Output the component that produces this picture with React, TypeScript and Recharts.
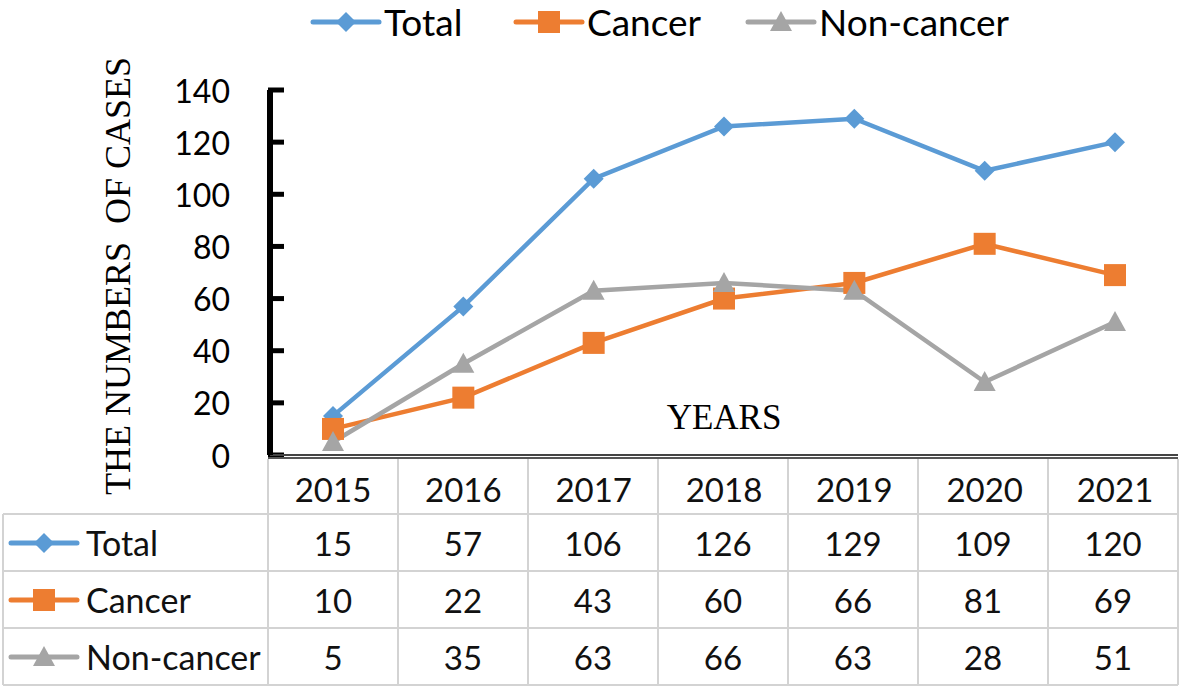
import React from "react";
import { LineChart, Line, XAxis, YAxis, Label, ReferenceLine } from "recharts";

const years = ["2015", "2016", "2017", "2018", "2019", "2020", "2021"];
const totalCases = [15, 57, 106, 126, 129, 109, 120];
const cancerCases = [10, 22, 43, 60, 66, 81, 69];
const nonCancerCases = [5, 35, 63, 66, 63, 28, 51];
const yTicks = [0, 20, 40, 60, 80, 100, 120, 140];

type Shape = "diamond" | "square" | "triangle";

const series: { key: string; name: string; color: string; shape: Shape; values: number[] }[] = [
  { key: "total", name: "Total", color: "#5B9BD5", shape: "diamond", values: totalCases },
  { key: "cancer", name: "Cancer", color: "#ED7D31", shape: "square", values: cancerCases },
  { key: "nonCancer", name: "Non-cancer", color: "#A5A5A5", shape: "triangle", values: nonCancerCases },
];

const data = years.map((year, i) => ({
  year,
  total: totalCases[i],
  cancer: cancerCases[i],
  nonCancer: nonCancerCases[i],
}));

const FONT = "Lato, 'Open Sans', sans-serif";
const SERIF = "'Liberation Serif', 'DejaVu Serif', serif";

// table geometry (matches the plot's category bands)
const COL0 = 268;
const COLW = 130;
const TABLE_TOP = 458;
const HEAD_H = 56;
const ROW_H = 57;
const GRID = "#d3d3d3";

// top legend item positions
const legendLefts = [310, 513, 745];

function Marker({ shape, cx, cy, color }: { shape: Shape; cx: number; cy: number; color: string }) {
  if (shape === "diamond") {
    const s = 10;
    return <polygon points={`${cx},${cy - s} ${cx + s},${cy} ${cx},${cy + s} ${cx - s},${cy}`} fill={color} />;
  }
  if (shape === "square") {
    const s = 11;
    return <rect x={cx - s} y={cy - s} width={s * 2} height={s * 2} fill={color} />;
  }
  const s = 11;
  return <polygon points={`${cx},${cy - s} ${cx + s},${cy + s - 2} ${cx - s},${cy + s - 2}`} fill={color} />;
}

function LegendIcon({ shape, color }: { shape: Shape; color: string }) {
  return (
    <svg width={72} height={26} style={{ display: "block", flex: "none" }}>
      <line x1={3} x2={69} y1={13} y2={13} stroke={color} strokeWidth={5} strokeLinecap="round" />
      <Marker shape={shape} cx={36} cy={13} color={color} />
    </svg>
  );
}

const YTick = ({ x, y, payload }: any) => (
  <text x={x} y={y} textAnchor="end" dominantBaseline="central" fontSize={32} fontFamily={FONT} fill="#000">
    {payload.value}
  </text>
);

// short inward tick stub drawn at the start of a reference line
const TickStub = (props: any) => (
  <path d={`M${props.x1 - 2},${props.y1}H${props.x1 + 14}`} stroke="#000" strokeWidth={5} fill="none" />
);

const XTick = ({ x, y, payload }: any) => (
  <text x={x} y={y + 32} textAnchor="middle" dominantBaseline="central" fontSize={33} fontFamily={FONT} fill="#111">
    {payload.value}
  </text>
);

function DataTable() {
  const lines: React.ReactNode[] = [];
  const right = COL0 + COLW * years.length;
  const bottom = TABLE_TOP + HEAD_H + ROW_H * series.length;
  // header top (dark, under the axis)
  lines.push(
    <div key="top" style={{ position: "absolute", left: COL0, top: TABLE_TOP - 1, width: right - COL0, height: 2, background: "#555" }} />
  );
  for (let r = 0; r <= series.length; r++) {
    const y = TABLE_TOP + HEAD_H + r * ROW_H;
    lines.push(
      <div key={"h" + r} style={{ position: "absolute", left: 3, top: y - 1, width: right - 3, height: 2, background: GRID }} />
    );
  }
  for (let c = 0; c <= years.length; c++) {
    const x = COL0 + c * COLW;
    lines.push(
      <div key={"v" + c} style={{ position: "absolute", left: x - 1, top: TABLE_TOP + 1, width: 2, height: bottom - TABLE_TOP - 1, background: GRID }} />
    );
  }
  lines.push(
    <div key="vl" style={{ position: "absolute", left: 2, top: TABLE_TOP + HEAD_H, width: 2, height: ROW_H * series.length, background: GRID }} />
  );

  const cells: React.ReactNode[] = [];
  series.forEach((s, r) => {
    const top = TABLE_TOP + HEAD_H + r * ROW_H;
    cells.push(
      <div key={"lab" + r} style={{ position: "absolute", left: 8, top, height: ROW_H, display: "flex", alignItems: "center" }}>
        <LegendIcon shape={s.shape} color={s.color} />
        <span style={{ marginLeft: 6, fontSize: 34, fontFamily: FONT, color: "#111", whiteSpace: "nowrap" }}>{s.name}</span>
      </div>
    );
    s.values.forEach((v, c) => {
      cells.push(
        <div
          key={`c${r}-${c}`}
          style={{
            position: "absolute",
            left: COL0 + c * COLW,
            top,
            width: COLW,
            height: ROW_H,
            display: "flex",
            alignItems: "center",
            justifyContent: "center",
            fontSize: 33,
            fontFamily: FONT,
            color: "#111",
          }}
        >
          {v}
        </div>
      );
    });
  });

  return (
    <>
      {lines}
      {cells}
    </>
  );
}

export default function App() {
  return (
    <div style={{ position: "absolute", left: 0, top: 0, width: 1179, height: 688, background: "#fff", overflow: "hidden" }}>
      <LineChart width={1179} height={688} data={data} margin={{ top: 90, right: 1, left: 190, bottom: 193 }}>
        <XAxis
          dataKey="year"
          padding={{ left: 63, right: 63 }}
          height={40}
          tickSize={0}
          tickLine={false}
          tick={<XTick />}
          axisLine={{ stroke: "#444", strokeWidth: 2 }}
        >
          <Label value="YEARS" position="top" offset={26} fontSize={35} fontFamily={SERIF} fill="#000" />
        </XAxis>
        <YAxis
          width={80}
          domain={[0, 140]}
          ticks={yTicks}
          tickSize={0}
          tickMargin={40}
          tickLine={false}
          tick={<YTick />}
          axisLine={{ stroke: "#000", strokeWidth: 6 }}
          interval={0}
        >
          <Label
            content={() => (
              <text
                x={118}
                y={276}
                transform="rotate(-90 118 276)"
                textAnchor="middle"
                dominantBaseline="central"
                fontSize={36}
                fontFamily={SERIF}
                fill="#000"
                style={{ whiteSpace: "pre" }}
              >
                THE NUMBERS  OF CASES
              </text>
            )}
          />
        </YAxis>
        {yTicks.map((t) => (
          <ReferenceLine key={"stub" + t} y={t} shape={TickStub} />
        ))}
        {series.map((s) => (
          <Line
            key={s.key}
            dataKey={s.key}
            name={s.name}
            stroke={s.color}
            strokeWidth={4.5}
            isAnimationActive={false}
            dot={(p: any) => <Marker key={`${s.key}-${p.index}`} shape={s.shape} cx={p.cx} cy={p.cy} color={s.color} />}
            activeDot={false}
          />
        ))}
      </LineChart>

      {series.map((s, i) => (
        <div
          key={s.key}
          style={{ position: "absolute", left: legendLefts[i], top: 3, height: 38, display: "flex", alignItems: "center" }}
        >
          <LegendIcon shape={s.shape} color={s.color} />
          <span style={{ marginLeft: 2, fontSize: 37, lineHeight: "38px", fontFamily: FONT, color: "#000", whiteSpace: "nowrap" }}>
            {s.name}
          </span>
        </div>
      ))}

      <DataTable />
    </div>
  );
}
